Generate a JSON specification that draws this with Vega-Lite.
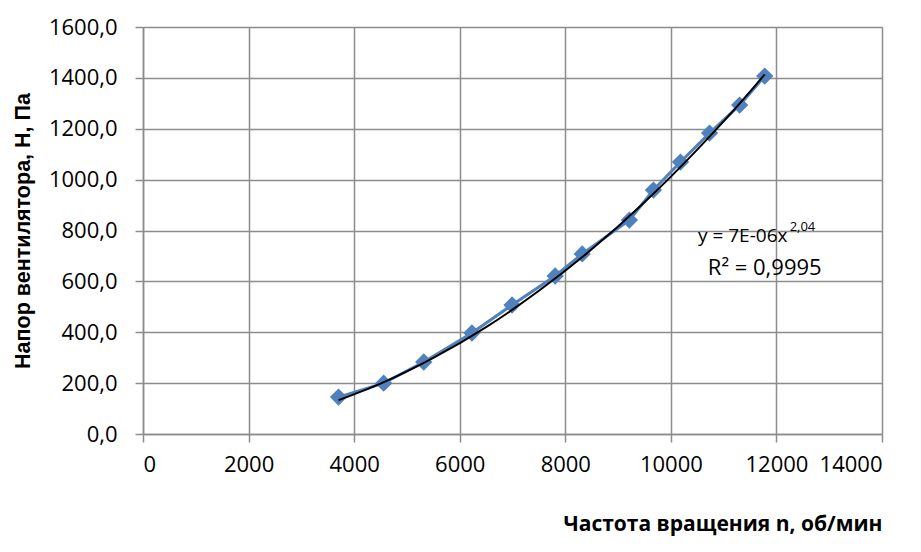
{
  "$schema": "https://vega.github.io/schema/vega-lite/v6.json",
  "width": 739,
  "height": 407,
  "autosize": "none",
  "padding": {"left": 143, "top": 27, "right": 39, "bottom": 118},
  "background": "white",
  "datasets": {
    "points": [
      {"n": 3704, "H": 145},
      {"n": 4560, "H": 200},
      {"n": 5319, "H": 283},
      {"n": 6231, "H": 397},
      {"n": 6991, "H": 507},
      {"n": 7808, "H": 621},
      {"n": 8321, "H": 708},
      {"n": 9214, "H": 841},
      {"n": 9670, "H": 959},
      {"n": 10182, "H": 1069},
      {"n": 10733, "H": 1183},
      {"n": 11303, "H": 1293},
      {"n": 11778, "H": 1407}
    ],
    "trend": [
      {"n": 3704, "H": 133},
      {"n": 4500, "H": 198},
      {"n": 5500, "H": 299},
      {"n": 6500, "H": 420},
      {"n": 7500, "H": 563},
      {"n": 8500, "H": 726},
      {"n": 9500, "H": 911},
      {"n": 10500, "H": 1118},
      {"n": 11500, "H": 1346},
      {"n": 11778, "H": 1414}
    ],
    "labels": [
      {"n": 10514, "H": 778, "t": "y = 7E-06x", "kind": "main"},
      {"n": 12250, "H": 812, "t": "2,04", "kind": "sup"},
      {"n": 11778, "H": 652, "t": "R² = 0,9995", "kind": "r2"}
    ]
  },
  "layer": [
    {
      "data": {"name": "points"},
      "mark": {"type": "line", "color": "#4F81BD", "strokeWidth": 3},
      "encoding": {
        "x": {
          "field": "n", "type": "quantitative",
          "scale": {"domain": [0, 14000], "nice": false},
          "axis": {
            "values": [0, 2000, 4000, 6000, 8000, 10000, 12000, 14000],
            "format": "d",
            "title": "Частота вращения n, об/мин",
            "titleFont": "Open Sans",
            "titleFontSize": 21,
            "titleAnchor": "end",
            "titleAlign": "right",
            "titlePadding": 38,
            "labelPadding": 12
          }
        },
        "y": {
          "field": "H", "type": "quantitative",
          "scale": {"domain": [0, 1600], "nice": false},
          "axis": {
            "values": [0, 200, 400, 600, 800, 1000, 1200, 1400, 1600],
            "labelExpr": "replace(format(datum.value, '.1f'), '.', ',')",
            "title": "Напор вентилятора, Н, Па",
            "titleFont": "Liberation Sans",
            "titleFontSize": 21.5,
            "titlePadding": 14,
            "labelPadding": 18
          }
        }
      }
    },
    {
      "data": {"name": "points"},
      "mark": {"type": "point", "shape": "diamond", "filled": true, "opacity": 1, "color": "#4F81BD", "size": 300},
      "encoding": {
        "x": {"field": "n", "type": "quantitative"},
        "y": {"field": "H", "type": "quantitative"}
      }
    },
    {
      "data": {"name": "trend"},
      "mark": {"type": "line", "color": "#000000", "strokeWidth": 2, "interpolate": "monotone"},
      "encoding": {
        "x": {"field": "n", "type": "quantitative"},
        "y": {"field": "H", "type": "quantitative"}
      }
    },
    {
      "data": {"name": "labels"},
      "transform": [{"filter": "datum.kind == 'main'"}],
      "mark": {"type": "text", "align": "left", "baseline": "middle", "font": "Open Sans", "fontSize": 19, "color": "#000000"},
      "encoding": {
        "x": {"field": "n", "type": "quantitative"},
        "y": {"field": "H", "type": "quantitative"},
        "text": {"field": "t"}
      }
    },
    {
      "data": {"name": "labels"},
      "transform": [{"filter": "datum.kind == 'sup'"}],
      "mark": {"type": "text", "align": "left", "baseline": "middle", "font": "Open Sans", "fontSize": 13, "color": "#000000"},
      "encoding": {
        "x": {"field": "n", "type": "quantitative"},
        "y": {"field": "H", "type": "quantitative"},
        "text": {"field": "t"}
      }
    },
    {
      "data": {"name": "labels"},
      "transform": [{"filter": "datum.kind == 'r2'"}],
      "mark": {"type": "text", "align": "center", "baseline": "middle", "font": "Open Sans", "fontSize": 22, "color": "#000000"},
      "encoding": {
        "x": {"field": "n", "type": "quantitative"},
        "y": {"field": "H", "type": "quantitative"},
        "text": {"field": "t"}
      }
    }
  ],
  "config": {
    "view": {"stroke": null},
    "axis": {
      "labelFont": "Open Sans",
      "labelFontSize": 22,
      "labelColor": "#000000",
      "titleFontWeight": "bold",
      "titleColor": "#000000",
      "gridColor": "#8c8c8c",
      "gridWidth": 1.5,
      "gridOpacity": 1,
      "domainColor": "#8c8c8c",
      "domainWidth": 1.5,
      "tickColor": "#8c8c8c",
      "tickWidth": 1.5,
      "tickSize": 8
    }
  }
}
